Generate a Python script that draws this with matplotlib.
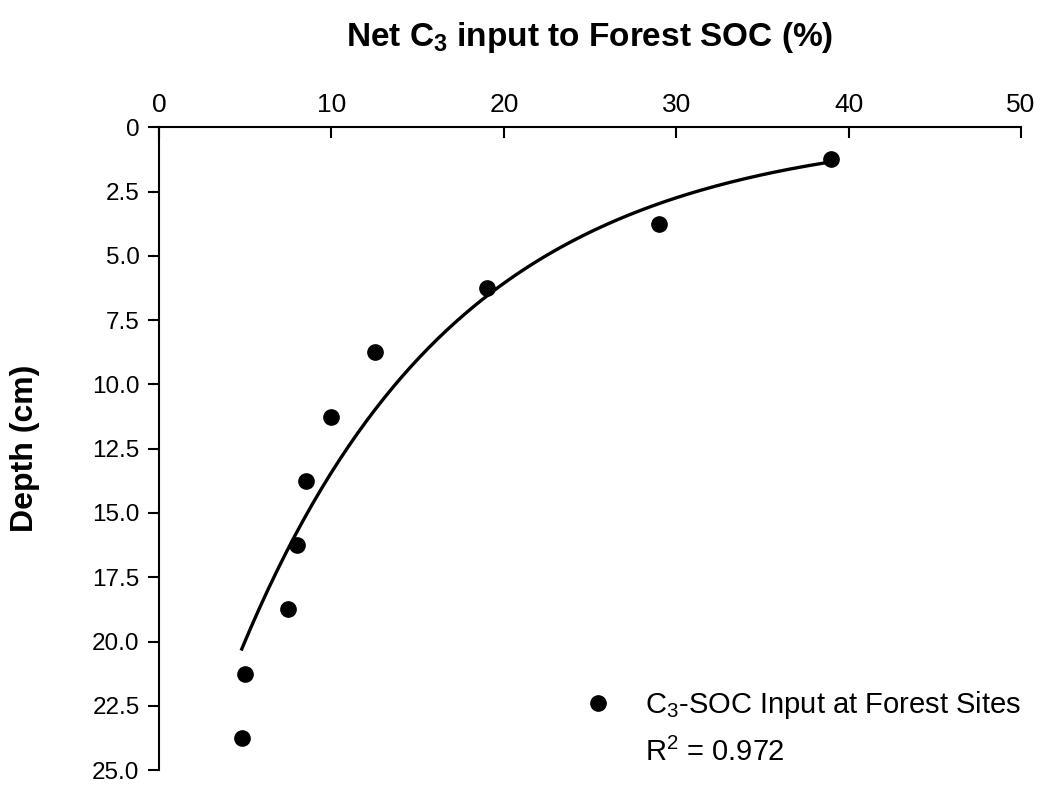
import numpy as np
import matplotlib
matplotlib.use("Agg")
import matplotlib.pyplot as plt
from matplotlib.lines import Line2D

plt.rcParams["font.family"] = ["Liberation Sans", "DejaVu Sans"]
plt.rcParams["mathtext.fontset"] = "custom"
plt.rcParams["mathtext.rm"] = "Liberation Sans"
plt.rcParams["mathtext.it"] = "Liberation Sans"
plt.rcParams["mathtext.bf"] = "Liberation Sans:bold"

# Net C3 input (%) and sampling depth (cm)
c3_input = [39, 29, 19, 12.5, 10, 8.5, 8, 7.5, 5, 4.8]
depth = [1.25, 3.75, 6.25, 8.75, 11.25, 13.75, 16.25, 18.75, 21.25, 23.75]

x_ticks = [0, 10, 20, 30, 40, 50]
y_ticks = [0, 2.5, 5.0, 7.5, 10.0, 12.5, 15.0, 17.5, 20.0, 22.5, 25.0]
y_tick_labels = ["0", "2.5", "5.0", "7.5", "10.0", "12.5", "15.0",
                 "17.5", "20.0", "22.5", "25.0"]
r_squared_text = "R$^2$ = 0.972"

fig = plt.figure(figsize=(10.44, 7.85), dpi=100)
ax = fig.add_axes([0.1523, 0.019, 0.8257, 0.8188])

x = np.array(c3_input)
d = np.array(depth)

# exponential trend: depth = exp(b) * exp(a * x)
a, b = np.polyfit(x, np.log(d), 1)
xs = np.linspace(x.min(), x.max(), 200)
ax.plot(xs, np.exp(b) * np.exp(a * xs), color="black", lw=2.4, zorder=2)

ax.plot(x, d, linestyle="none", marker="o", markersize=11,
        color="black", zorder=3)

ax.set_xlim(0, 50)
ax.set_ylim(25, 0)
ax.set_xticks(x_ticks)
ax.set_yticks(y_ticks)
ax.set_yticklabels(y_tick_labels)

ax.xaxis.tick_top()
ax.xaxis.set_label_position("top")
ax.tick_params(axis="x", direction="in", length=8, width=1.5,
               labelsize=19, pad=7.5)
ax.tick_params(axis="y", direction="out", length=8, width=1.5,
               labelsize=17.5, pad=6)

for side in ("right", "bottom"):
    ax.spines[side].set_visible(False)
for side in ("left", "top"):
    ax.spines[side].set_linewidth(1.5)

xl = ax.set_xlabel(r"Net C$_{\mathbf{3}}$ input to Forest SOC (%)",
                   fontsize=24, fontweight="bold")
ax.xaxis.set_label_coords(0.5, 1.1404)
xl.set_va("center")

yl = ax.set_ylabel("Depth (cm)", fontsize=23, fontweight="bold")
ax.yaxis.set_label_coords(-0.1555, 0.5)
yl.set_va("center")

handle = Line2D([], [], linestyle="none", marker="o", markersize=11,
                color="black")
leg = ax.legend([handle], [r"C$_3$-SOC Input at Forest Sites"],
                loc="center left", bbox_to_anchor=(0.5406, 0.102),
                bbox_transform=fig.transFigure, frameon=False,
                fontsize=21, handletextpad=0.86, handlelength=1.5,
                borderaxespad=0)

fig.text(645 / 1044, 1 - 752 / 785, r_squared_text, fontsize=21,
         ha="left", va="center")

fig.savefig("out.png", dpi=100, facecolor="white")
